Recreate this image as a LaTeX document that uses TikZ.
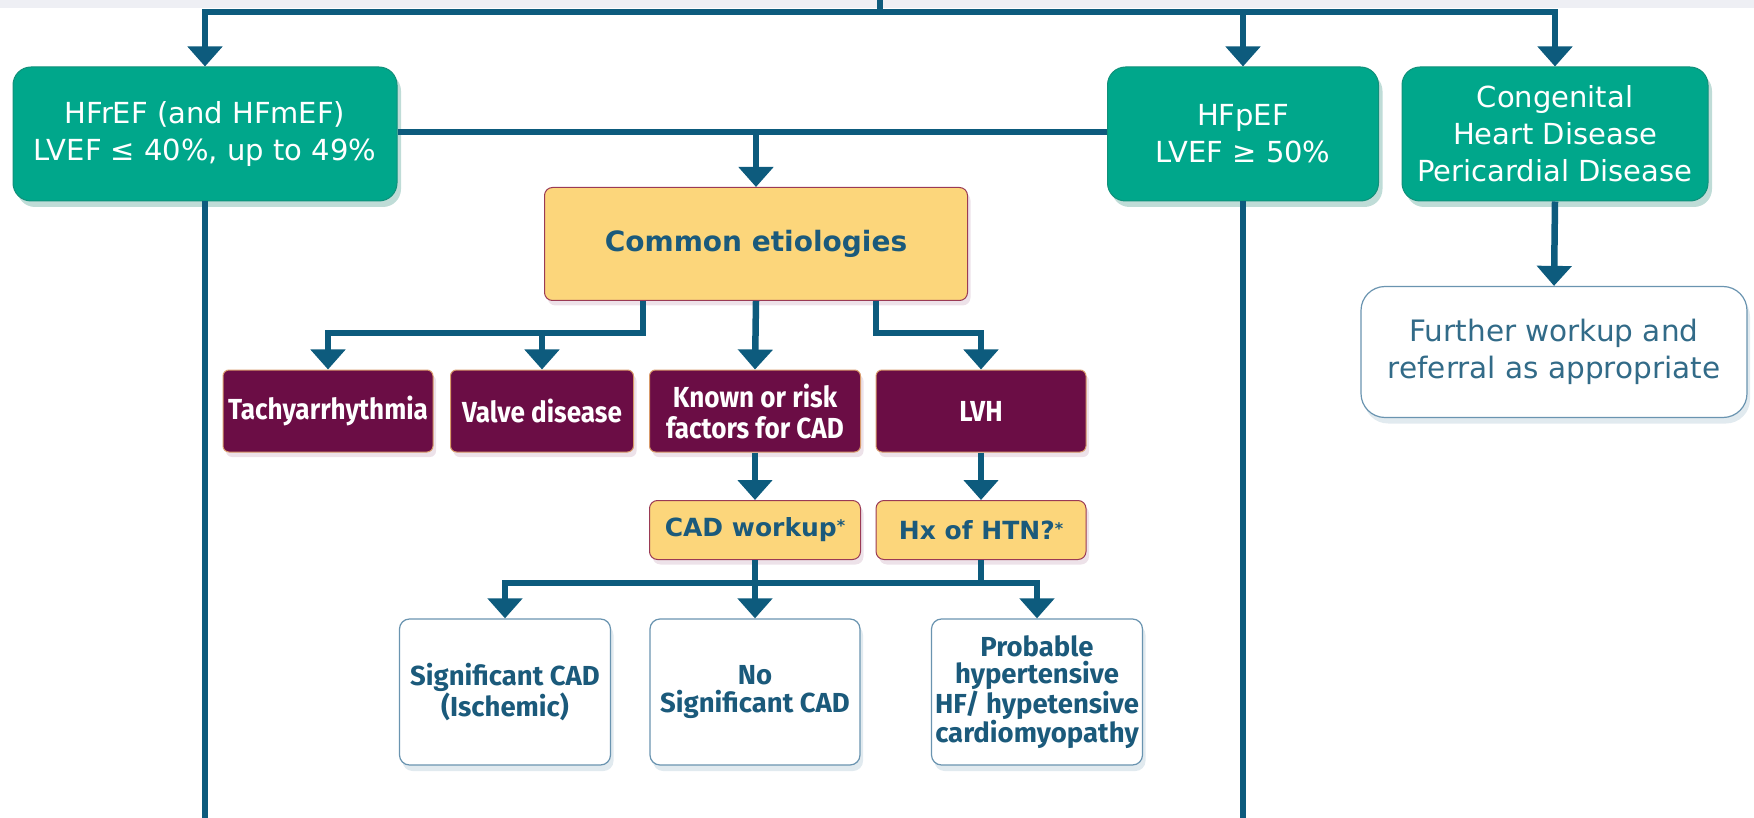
\documentclass[tikz,border=0pt]{standalone}
\usepackage{fontspec}
\setmainfont{DejaVu Sans}
\newfontfamily\dvfont{DejaVu Sans}
\newfontfamily\firac[FakeStretch=0.9]{Fira Sans}
\newfontfamily\firan{Fira Sans}
\usetikzlibrary{arrows.meta,shadows}
\definecolor{tealc}{HTML}{00A78B}
\definecolor{tealb}{HTML}{10907A}
\definecolor{connc}{HTML}{0D5B7D}
\definecolor{yel}{HTML}{FCD67B}
\definecolor{yelb}{HTML}{9A3A55}
\definecolor{purp}{HTML}{6B0D45}
\definecolor{purpb}{HTML}{D89A6A}
\definecolor{txtb}{HTML}{1B5A7B}
\definecolor{whb}{HTML}{6A94B0}
\definecolor{band}{HTML}{EEEFF4}
\tikzset{
  link/.style={draw=connc, line width=6.5pt},
  arr/.style={-{Triangle[width=34pt,length=20pt]}},
  tealbox/.style={rounded corners=18pt, fill=tealc, draw=tealb, line width=1pt,
    text=white, align=center, inner sep=0pt,
    font=\dvfont\fontsize{29}{37}\selectfont,
    drop shadow={shadow xshift=4pt, shadow yshift=-6pt, opacity=0.25, fill=tealc!70!black}},
  yelbox/.style={rounded corners=8pt, fill=yel, draw=yelb, line width=1pt,
    text=txtb, align=center, inner sep=0pt,
    drop shadow={shadow xshift=3pt, shadow yshift=-5pt, opacity=0.2, fill=purp!60}},
  purpbox/.style={rounded corners=6pt, fill=purp, draw=purpb, line width=1pt,
    text=white, align=center, inner sep=0pt,
    font=\firac\bfseries\fontsize{29}{31}\selectfont,
    drop shadow={shadow xshift=3pt, shadow yshift=-5pt, opacity=0.2, fill=purp!60}},
  whbox/.style={rounded corners=10pt, fill=white, draw=whb, line width=1.2pt,
    text=txtb, align=center, inner sep=0pt,
    font=\firan\bfseries\fontsize{27.5}{27.5}\selectfont,
    drop shadow={shadow xshift=3pt, shadow yshift=-6pt, opacity=0.2, fill=whb}},
}
\begin{document}
\begin{tikzpicture}[x=1pt,y=-1pt]
\useasboundingbox (0,0) rectangle (1754,818);
\fill[band] (0,0) rectangle (1754,8);

% top level
\node[tealbox, minimum width=384pt, minimum height=134pt] (hfref) at (205,134)
  {HFrEF (and HFmEF)\\LVEF ≤ 40\%, up to 49\%};
\node[tealbox, minimum width=271pt, minimum height=134pt] (hfpef) at (1243,134)
  {HFpEF\\LVEF ≥ 50\%};
\node[tealbox, minimum width=306pt, minimum height=134pt] (chd) at (1555,134)
  {Congenital\\Heart Disease\\Pericardial Disease};
\node[whbox, rounded corners=24pt, minimum width=386pt, minimum height=131pt,
  font=\dvfont\fontsize{29.5}{37}\selectfont, text=txtb!90!white] (further) at (1554,352)
  {Further workup and\\referral as appropriate};

% common etiologies
\node[yelbox, minimum width=423pt, minimum height=113pt,
  font=\dvfont\bfseries\fontsize{28}{34}\selectfont] (common) at (756,244) {Common etiologies};

% purple
\node[purpbox, minimum width=210pt, minimum height=82pt] (tachy) at (328,411) {Tachyarrhythmia};
\node[purpbox, minimum width=183pt, minimum height=82pt] (valve) at (542,411) {Valve disease};
\node[purpbox, minimum width=211pt, minimum height=82pt] (known) at (755,411) {Known or risk\\factors for CAD};
\node[purpbox, minimum width=210pt, minimum height=82pt] (lvh) at (981,411) {LVH};

% yellow small
\node[yelbox, minimum width=211pt, minimum height=59pt,
  font=\dvfont\bfseries\fontsize{25}{30}\selectfont] (cadw) at (755,530) {CAD workup\raisebox{5pt}{\fontsize{16}{16}\selectfont*}};
\node[yelbox, minimum width=210pt, minimum height=59pt,
  font=\dvfont\bfseries\fontsize{25}{30}\selectfont] (htn) at (981,530) {Hx of HTN?\raisebox{5pt}{\fontsize{16}{16}\selectfont*}};

% bottom white
\node[whbox, minimum width=211pt, minimum height=146pt] (sig) at (505,692) {Significant CAD\\(Ischemic)};
\node[whbox, minimum width=210pt, minimum height=146pt] (nosig) at (755,692) {No\\Significant CAD};
\node[whbox, minimum width=211pt, minimum height=146pt] (prob) at (1037,692) {Probable\\hypertensive\\HF/ hypetensive\\cardiomyopathy};

% coordinates
\coordinate (topin) at (880,0);
\coordinate (bar) at (880,12);
\coordinate (c1) at (643,333);
\coordinate (c2) at (876,333);
\coordinate (bj) at (755,583);
\coordinate (bottomedge) at (0,818);

% connectors
\draw[link] (topin) -- (bar);
\draw[link, arr] (bar) -| (hfref.north);
\draw[link, arr] (bar) -| (hfpef.north);
\draw[link, arr] (bar) -| (chd.north);
\draw[link] (hfref.east) ++(0,-2) -- (hfpef.west |- 0,132);
\draw[link, arr] (common.north |- 0,132) -- (common.north);
\draw[link] (hfref.south) -- (hfref.south |- bottomedge);
\draw[link] (hfpef.south) -- (hfpef.south |- bottomedge);
\draw[link, arr] (chd.south) -- (further.north);

\draw[link, arr] (common.south -| c1) -- (c1) -| (tachy.north);
\draw[link, arr] (valve.north |- c1) -- (valve.north);
\draw[link, arr] (common.south) -- (known.north);
\draw[link, arr] (common.south -| c2) -- (c2) -| (lvh.north);

\draw[link, arr] (known.south) -- (cadw.north);
\draw[link, arr] (lvh.south) -- (htn.north);

\draw[link, arr] (cadw.south) -- (nosig.north);
\draw[link, arr] (bj) -| (sig.north);
\draw[link, arr] (bj) -| (prob.north);
\draw[link] (htn.south) -- (htn.south |- bj);
\end{tikzpicture}
\end{document}
